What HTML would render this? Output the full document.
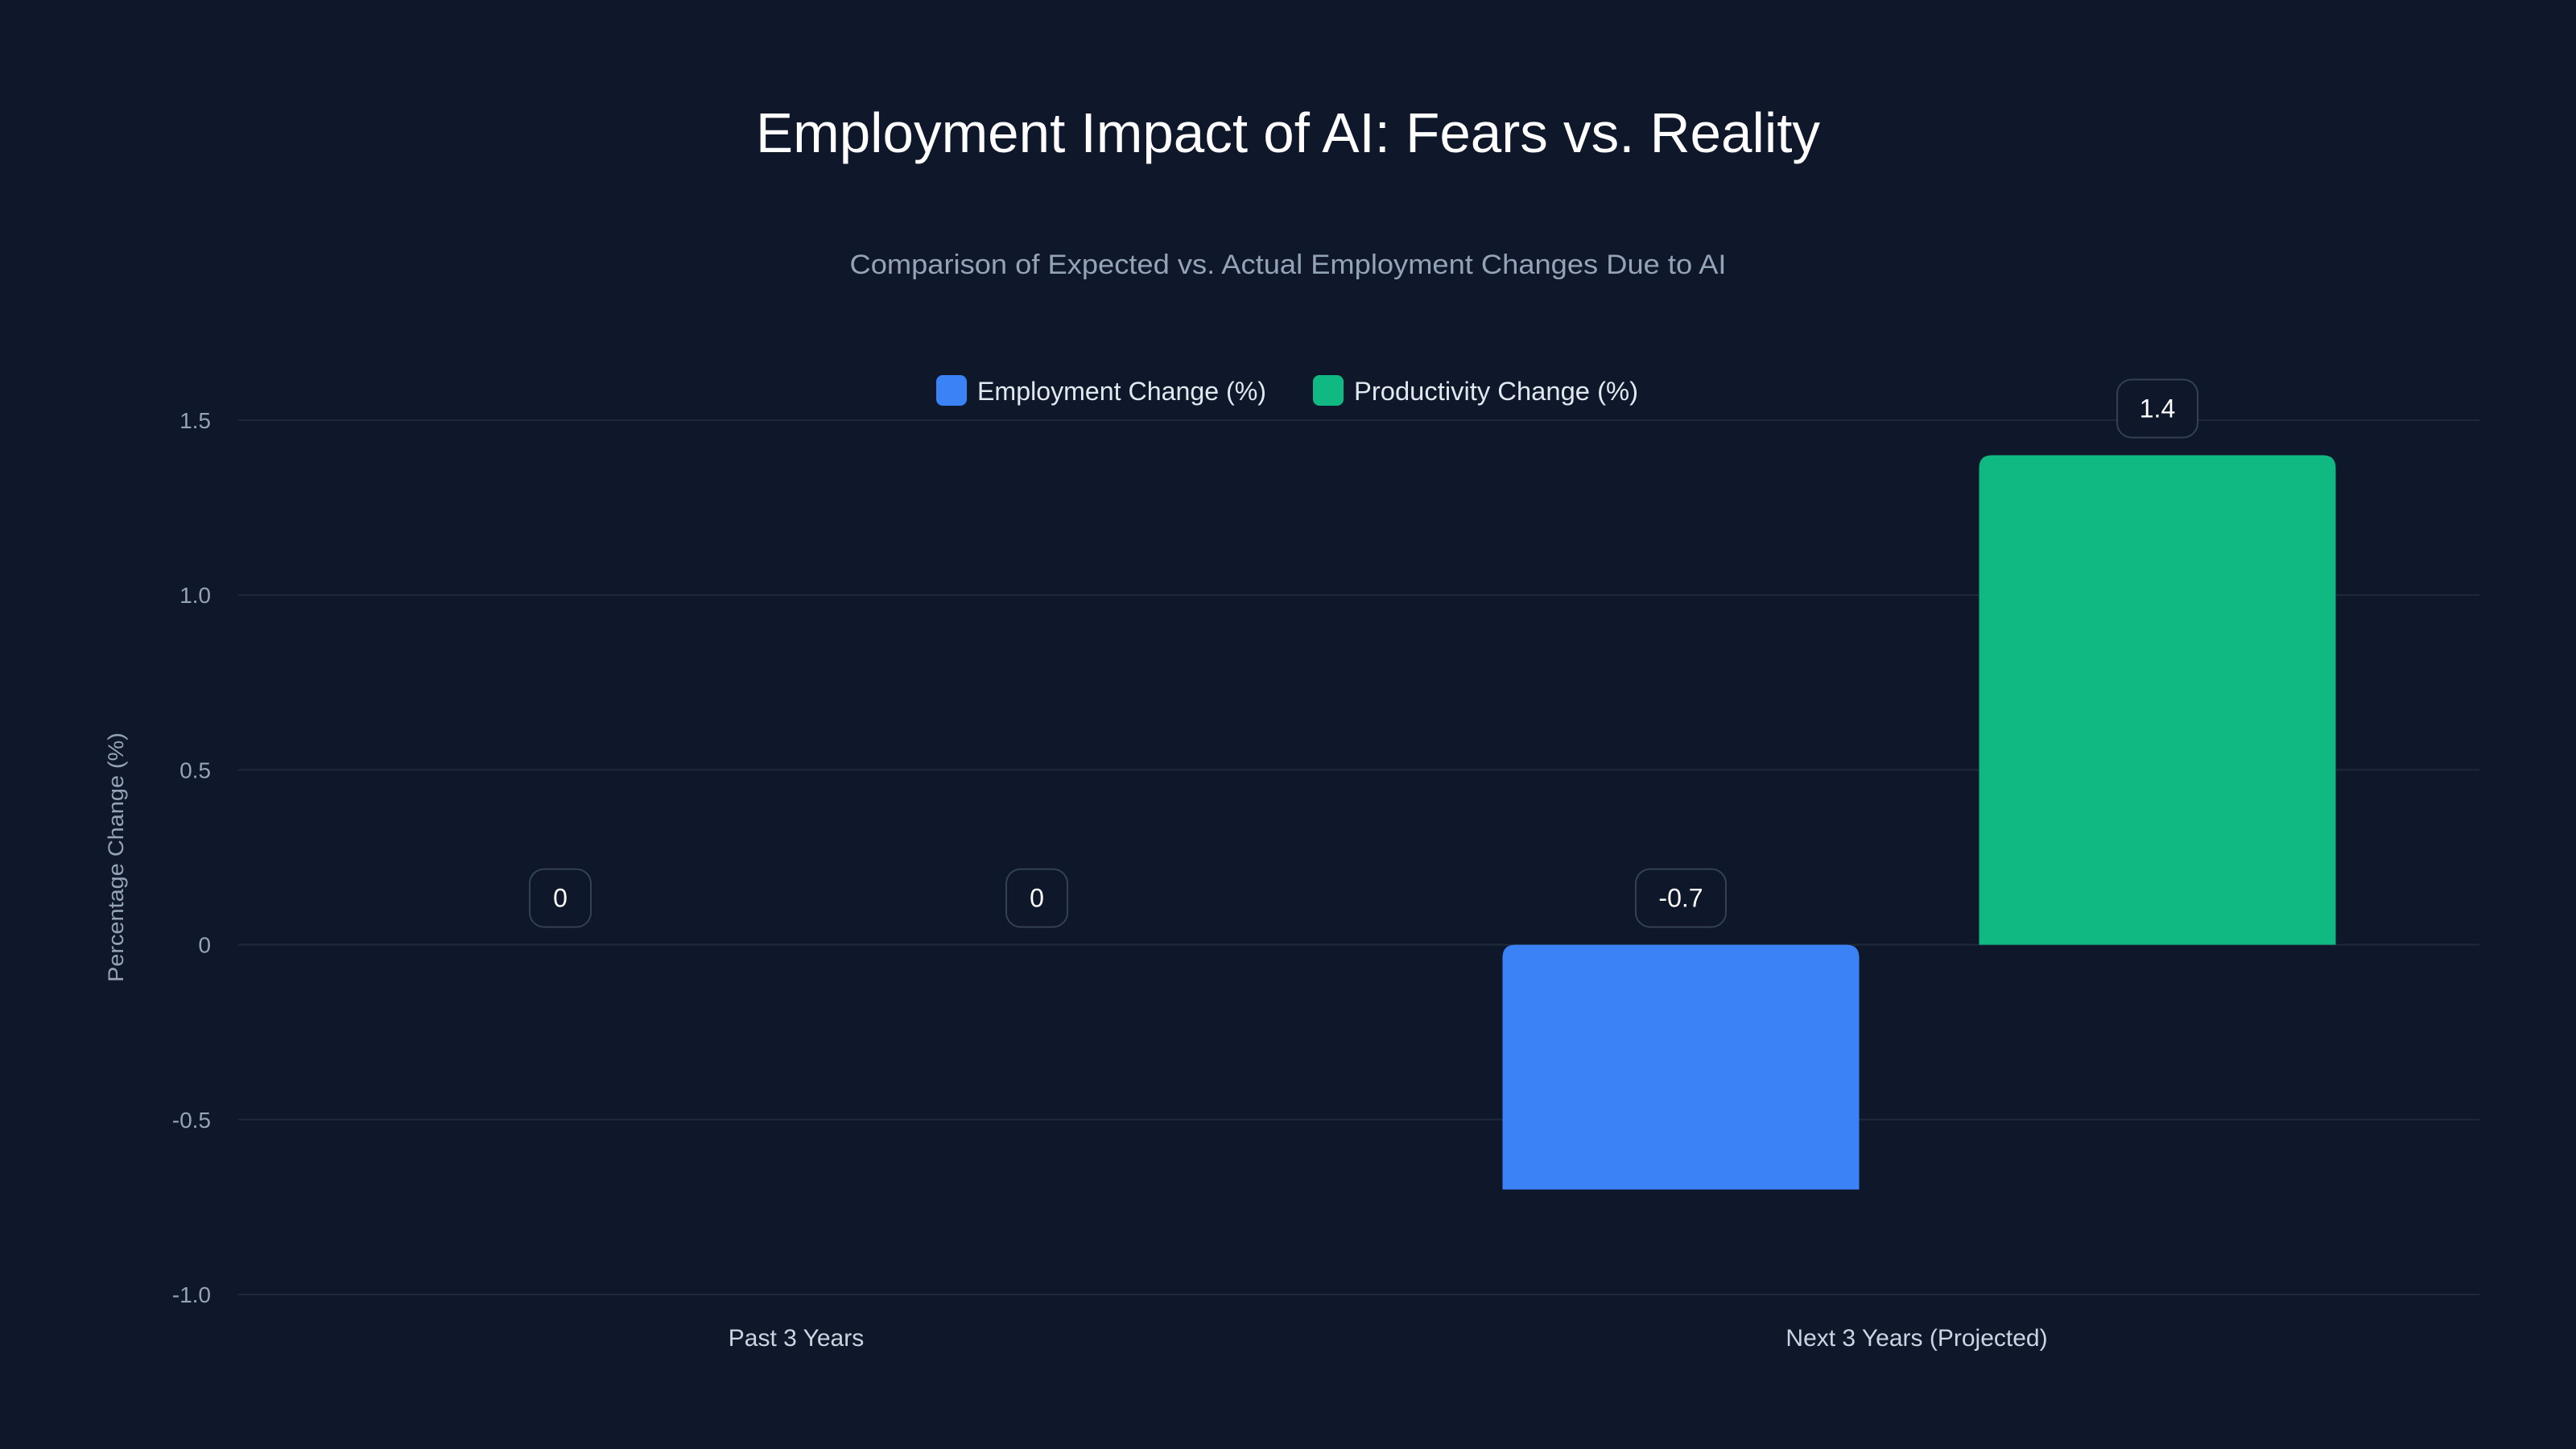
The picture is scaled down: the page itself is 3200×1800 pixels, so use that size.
<!DOCTYPE html>
<html><head><meta charset="utf-8"><style>
html,body{margin:0;padding:0;background:#0f172a;}
svg{display:block;font-family:"Liberation Sans",sans-serif;}
</style></head><body>
<svg id="chart" width="3200" height="1800" viewBox="0 0 3200 1800">
<rect width="3200" height="1800" fill="#0f172a"/>
<text x="1600" y="189" text-anchor="middle" font-size="70" fill="#ffffff" textLength="1322" lengthAdjust="spacingAndGlyphs">Employment Impact of AI: Fears vs. Reality</text>
<text x="1600" y="340" text-anchor="middle" font-size="34" fill="#94a3b8" textLength="1089" lengthAdjust="spacingAndGlyphs">Comparison of Expected vs. Actual Employment Changes Due to AI</text>
<g>
<g>
<rect x="1163" y="466" width="38" height="38" rx="8" fill="#3b82f6"/>
<text x="1214" y="497" font-size="32" fill="#e2e8f0" textLength="359" lengthAdjust="spacingAndGlyphs">Employment Change (%)</text>
</g>
<g>
<rect x="1631" y="466" width="38" height="38" rx="8" fill="#10b981"/>
<text x="1682" y="497" font-size="32" fill="#e2e8f0" textLength="353" lengthAdjust="spacingAndGlyphs">Productivity Change (%)</text>
</g>
</g>
<text transform="translate(153,1065) rotate(-90)" text-anchor="middle" font-size="27" fill="#94a3b8" textLength="310" lengthAdjust="spacingAndGlyphs">Percentage Change (%)</text>
<g id="grid"></g><g id="bars"></g><g id="labels"></g>
</svg>
<script>
const categories = ["Past 3 Years", "Next 3 Years (Projected)"];
const employmentValues = [0, -0.7];
const productivityValues = [0, 1.4];
const yTicks = [1.5, 1.0, 0.5, 0, -0.5, -1.0];
const yTickLabels = ["1.5", "1.0", "0.5", "0", "-0.5", "-1.0"];

const NS = "http://www.w3.org/2000/svg";
const plotL = 296, plotR = 3080, yMax = 1.5, yMin = -1.0, yTop = 522, yBot = 1608;
function y(v){ return yTop + (yMax - v) / (yMax - yMin) * (yBot - yTop); }
const band = (plotR - plotL) / categories.length;
function xc(i){ return plotL + band * (i + 0.5); }
function mk(tag, attrs, parent){ const e = document.createElementNS(NS, tag); for (const k in attrs) e.setAttribute(k, attrs[k]); parent.appendChild(e); return e; }
const grid = document.getElementById("grid"), bars = document.getElementById("bars"), labels = document.getElementById("labels");

yTicks.forEach((t, i) => {
  const ln = mk("line", {x1: plotL, x2: plotR, y1: y(t), y2: y(t), stroke: "#1e293b", "stroke-width": 2}, grid);
  
  
  const tx = mk("text", {x: 262, y: y(t) + 10, "text-anchor": "end", "font-size": 28, fill: "#94a3b8"}, grid);
  tx.textContent = yTickLabels[i];
  
  
});
categories.forEach((c, i) => {
  const tx = mk("text", {x: xc(i) - 3, y: 1672, "text-anchor": "middle", "font-size": 30, fill: "#cbd5e1"}, grid);
  tx.textContent = c;
  
  
});

const barW = 443, off = 296, r = 16;
function barPath(x, v){
  const y0 = y(0), y1 = y(v);
  if (v > 0) return `M${x},${y0} L${x},${y1+r} Q${x},${y1} ${x+r},${y1} L${x+barW-r},${y1} Q${x+barW},${y1} ${x+barW},${y1+r} L${x+barW},${y0} Z`;
  return `M${x},${y1} L${x},${y0+r} Q${x},${y0} ${x+r},${y0} L${x+barW-r},${y0} Q${x+barW},${y0} ${x+barW},${y0+r} L${x+barW},${y1} Z`;
}
function drawBar(i, v, dx, color, name){
  const cx = xc(i) + dx, x = cx - barW/2;
  if (v !== 0) {
    const p = mk("path", {d: barPath(x, v), fill: color}, bars);
    
    
  }
  const txt = String(v);
  const w = 64 + txt.length * 12;
  const top = (v > 0 ? y(v) : y(0)) - 22 - 72;
  const g = mk("g", {}, labels);
  
  
  mk("rect", {x: cx - w/2, y: top, width: w, height: 72, rx: 18, fill: "#0f172a", stroke: "#334155", "stroke-width": 2}, g);
  const t = mk("text", {x: cx, y: top + 47, "text-anchor": "middle", "font-size": 32, fill: "#ffffff"}, g);
  t.textContent = txt;
}
categories.forEach((c, i) => {
  drawBar(i, employmentValues[i], -off, "#3b82f6", "bar-employment");
  drawBar(i, productivityValues[i], off, "#10b981", "bar-productivity");
});
</script>
</body></html>
